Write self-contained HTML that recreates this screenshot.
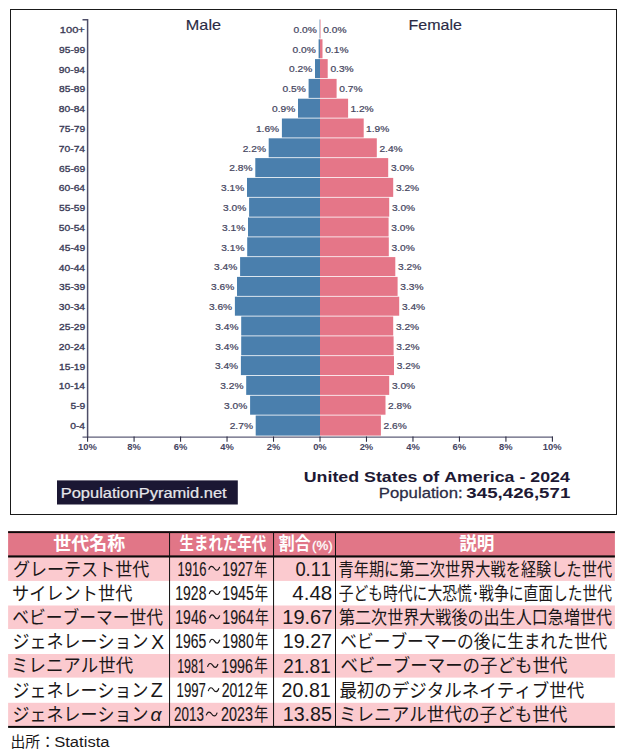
<!DOCTYPE html>
<html lang="ja">
<head>
<meta charset="utf-8">
<title>United States of America - 2024 Population Pyramid</title>
<style>
html,body{margin:0;padding:0;background:#fff;}
body{width:625px;height:753px;overflow:hidden;position:relative;font-family:"Liberation Sans",sans-serif;}
#frame{position:absolute;left:10px;top:9px;width:605px;height:504px;border:1px solid #1a1a1a;box-sizing:content-box;}
svg{position:absolute;left:0;top:0;display:block;}
svg text{font-family:"Liberation Sans","Noto Sans CJK JP",sans-serif;font-kerning:none;white-space:pre;}
</style>
</head>
<body>
<div id="frame"></div>
<svg id="page" width="625" height="753" viewBox="0 0 625 753">
<g id="chart">
<g id="bars">
<rect x="319.6" y="19.5" width="0.4" height="19" fill="#4a7fad"/>
<rect x="320" y="19.5" width="0.5" height="19" fill="#e57688"/>
<rect x="318.6" y="39.3" width="1.4" height="19" fill="#4a7fad"/>
<rect x="320" y="39.3" width="2.5" height="19" fill="#e57688"/>
<rect x="315" y="59.1" width="5" height="19" fill="#4a7fad"/>
<rect x="320" y="59.1" width="7.7" height="19" fill="#e57688"/>
<rect x="308.6" y="78.9" width="11.4" height="19" fill="#4a7fad"/>
<rect x="320" y="78.9" width="16.6" height="19" fill="#e57688"/>
<rect x="298" y="98.7" width="22" height="19" fill="#4a7fad"/>
<rect x="320" y="98.7" width="28.1" height="19" fill="#e57688"/>
<rect x="281.9" y="118.5" width="38.1" height="19" fill="#4a7fad"/>
<rect x="320" y="118.5" width="43.7" height="19" fill="#e57688"/>
<rect x="268.7" y="138.3" width="51.3" height="19" fill="#4a7fad"/>
<rect x="320" y="138.3" width="56.8" height="19" fill="#e57688"/>
<rect x="255.3" y="158.1" width="64.7" height="19" fill="#4a7fad"/>
<rect x="320" y="158.1" width="68.2" height="19" fill="#e57688"/>
<rect x="247" y="177.9" width="73" height="19" fill="#4a7fad"/>
<rect x="320" y="177.9" width="73.2" height="19" fill="#e57688"/>
<rect x="249.1" y="197.7" width="70.9" height="19" fill="#4a7fad"/>
<rect x="320" y="197.7" width="69.2" height="19" fill="#e57688"/>
<rect x="248" y="217.5" width="72" height="19" fill="#4a7fad"/>
<rect x="320" y="217.5" width="68.6" height="19" fill="#e57688"/>
<rect x="247.2" y="237.3" width="72.8" height="19" fill="#4a7fad"/>
<rect x="320" y="237.3" width="68.8" height="19" fill="#e57688"/>
<rect x="240.1" y="257.1" width="79.9" height="19" fill="#4a7fad"/>
<rect x="320" y="257.1" width="75.3" height="19" fill="#e57688"/>
<rect x="237" y="276.9" width="83" height="19" fill="#4a7fad"/>
<rect x="320" y="276.9" width="77.6" height="19" fill="#e57688"/>
<rect x="234.9" y="296.7" width="85.1" height="19" fill="#4a7fad"/>
<rect x="320" y="296.7" width="79.2" height="19" fill="#e57688"/>
<rect x="241.2" y="316.5" width="78.8" height="19" fill="#4a7fad"/>
<rect x="320" y="316.5" width="73.2" height="19" fill="#e57688"/>
<rect x="241.2" y="336.3" width="78.8" height="19" fill="#4a7fad"/>
<rect x="320" y="336.3" width="73.6" height="19" fill="#e57688"/>
<rect x="240.9" y="356.1" width="79.1" height="19" fill="#4a7fad"/>
<rect x="320" y="356.1" width="74" height="19" fill="#e57688"/>
<rect x="246.2" y="375.9" width="73.8" height="19" fill="#4a7fad"/>
<rect x="320" y="375.9" width="69.2" height="19" fill="#e57688"/>
<rect x="250.1" y="395.7" width="69.9" height="19" fill="#4a7fad"/>
<rect x="320" y="395.7" width="65.5" height="19" fill="#e57688"/>
<rect x="255.7" y="415.5" width="64.3" height="20.1" fill="#4a7fad"/>
<rect x="320" y="415.5" width="60.9" height="20.1" fill="#e57688"/>
</g>
<g fill="none">
<path d="M82.5 19.7H87.6V437.1" stroke="#4e4e68" stroke-width="1.5"/>
<path d="M82.5 437.1H552.9" stroke="#5e5e78" stroke-width="1.4"/>
<path d="M87.6 436.5V441.7M134.08 436.5V441.7M180.56 436.5V441.7M227.04 436.5V441.7M273.52 436.5V441.7M320 436.5V441.7M366.48 436.5V441.7M412.96 436.5V441.7M459.44 436.5V441.7M505.92 436.5V441.7M552.4 436.5V441.7" stroke="#2e2e44" stroke-width="1.1"/>
</g>
<g fill="#3a3a55">
<text transform="translate(59.85,33.1) scale(1.14388,1)" x="0 5.39 10.79 16.18" font-size="9.7" fill="#3a3a55" stroke="#3a3a55" stroke-width="0.34">100+</text>
<text transform="translate(58.99,53.3) scale(1.06,1)" x="0 5.39 10.79 14.02 19.41" font-size="9.7" fill="#3a3a55" stroke="#3a3a55" stroke-width="0.34">95-99</text>
<text transform="translate(58.8,73.1) scale(1.06,1)" x="0 5.39 10.79 14.02 19.41" font-size="9.7" fill="#3a3a55" stroke="#3a3a55" stroke-width="0.34">90-94</text>
<text transform="translate(58.99,92.4) scale(1.06,1)" x="0 5.39 10.79 14.02 19.41" font-size="9.7" fill="#3a3a55" stroke="#3a3a55" stroke-width="0.34">85-89</text>
<text transform="translate(58.8,112.2) scale(1.06,1)" x="0 5.39 10.79 14.02 19.41" font-size="9.7" fill="#3a3a55" stroke="#3a3a55" stroke-width="0.34">80-84</text>
<text transform="translate(58.99,132) scale(1.06,1)" x="0 5.39 10.79 14.02 19.41" font-size="9.7" fill="#3a3a55" stroke="#3a3a55" stroke-width="0.34">75-79</text>
<text transform="translate(58.8,151.8) scale(1.06,1)" x="0 5.39 10.79 14.02 19.41" font-size="9.7" fill="#3a3a55" stroke="#3a3a55" stroke-width="0.34">70-74</text>
<text transform="translate(58.99,171.6) scale(1.06,1)" x="0 5.39 10.79 14.02 19.41" font-size="9.7" fill="#3a3a55" stroke="#3a3a55" stroke-width="0.34">65-69</text>
<text transform="translate(58.8,191.4) scale(1.06,1)" x="0 5.39 10.79 14.02 19.41" font-size="9.7" fill="#3a3a55" stroke="#3a3a55" stroke-width="0.34">60-64</text>
<text transform="translate(58.99,211.2) scale(1.06,1)" x="0 5.39 10.79 14.02 19.41" font-size="9.7" fill="#3a3a55" stroke="#3a3a55" stroke-width="0.34">55-59</text>
<text transform="translate(58.8,231) scale(1.06,1)" x="0 5.39 10.79 14.02 19.41" font-size="9.7" fill="#3a3a55" stroke="#3a3a55" stroke-width="0.34">50-54</text>
<text transform="translate(58.99,250.8) scale(1.06,1)" x="0 5.39 10.79 14.02 19.41" font-size="9.7" fill="#3a3a55" stroke="#3a3a55" stroke-width="0.34">45-49</text>
<text transform="translate(58.8,270.6) scale(1.06,1)" x="0 5.39 10.79 14.02 19.41" font-size="9.7" fill="#3a3a55" stroke="#3a3a55" stroke-width="0.34">40-44</text>
<text transform="translate(58.99,290.4) scale(1.06,1)" x="0 5.39 10.79 14.02 19.41" font-size="9.7" fill="#3a3a55" stroke="#3a3a55" stroke-width="0.34">35-39</text>
<text transform="translate(58.8,310.2) scale(1.06,1)" x="0 5.39 10.79 14.02 19.41" font-size="9.7" fill="#3a3a55" stroke="#3a3a55" stroke-width="0.34">30-34</text>
<text transform="translate(58.99,330) scale(1.06,1)" x="0 5.39 10.79 14.02 19.41" font-size="9.7" fill="#3a3a55" stroke="#3a3a55" stroke-width="0.34">25-29</text>
<text transform="translate(58.8,349.8) scale(1.06,1)" x="0 5.39 10.79 14.02 19.41" font-size="9.7" fill="#3a3a55" stroke="#3a3a55" stroke-width="0.34">20-24</text>
<text transform="translate(58.99,369.6) scale(1.06,1)" x="0 5.39 10.79 14.02 19.41" font-size="9.7" fill="#3a3a55" stroke="#3a3a55" stroke-width="0.34">15-19</text>
<text transform="translate(58.8,389.4) scale(1.06,1)" x="0 5.39 10.79 14.02 19.41" font-size="9.7" fill="#3a3a55" stroke="#3a3a55" stroke-width="0.34">10-14</text>
<text transform="translate(70.43,409.2) scale(1.06,1)" x="0 5.39 8.62" font-size="9.7" fill="#3a3a55" stroke="#3a3a55" stroke-width="0.34">5-9</text>
<text transform="translate(70.24,429) scale(1.06,1)" x="0 5.39 8.62" font-size="9.7" fill="#3a3a55" stroke="#3a3a55" stroke-width="0.34">0-4</text>
</g>
<text transform="translate(293.59,32.8) scale(1.075,1)" x="0 5.28 7.92 13.21" font-size="9.5" fill="#454560" stroke="#454560" stroke-width="0.22">0.0%</text>
<text transform="translate(323.2,32.8) scale(1.075,1)" x="0 5.28 7.92 13.21" font-size="9.5" fill="#454560" stroke="#454560" stroke-width="0.22">0.0%</text>
<text transform="translate(292.59,52.6) scale(1.075,1)" x="0 5.28 7.92 13.21" font-size="9.5" fill="#454560" stroke="#454560" stroke-width="0.22">0.0%</text>
<text transform="translate(325.2,52.6) scale(1.075,1)" x="0 5.28 7.92 13.21" font-size="9.5" fill="#454560" stroke="#454560" stroke-width="0.22">0.1%</text>
<text transform="translate(288.99,72.4) scale(1.075,1)" x="0 5.28 7.92 13.21" font-size="9.5" fill="#454560" stroke="#454560" stroke-width="0.22">0.2%</text>
<text transform="translate(330.4,72.4) scale(1.075,1)" x="0 5.28 7.92 13.21" font-size="9.5" fill="#454560" stroke="#454560" stroke-width="0.22">0.3%</text>
<text transform="translate(282.59,92.2) scale(1.075,1)" x="0 5.28 7.92 13.21" font-size="9.5" fill="#454560" stroke="#454560" stroke-width="0.22">0.5%</text>
<text transform="translate(339.3,92.2) scale(1.075,1)" x="0 5.28 7.92 13.21" font-size="9.5" fill="#454560" stroke="#454560" stroke-width="0.22">0.7%</text>
<text transform="translate(271.99,112) scale(1.075,1)" x="0 5.28 7.92 13.21" font-size="9.5" fill="#454560" stroke="#454560" stroke-width="0.22">0.9%</text>
<text transform="translate(350.42,112) scale(1.075,1)" x="0 5.28 7.92 13.21" font-size="9.5" fill="#454560" stroke="#454560" stroke-width="0.22">1.2%</text>
<text transform="translate(255.89,131.8) scale(1.075,1)" x="0 5.28 7.92 13.21" font-size="9.5" fill="#454560" stroke="#454560" stroke-width="0.22">1.6%</text>
<text transform="translate(366.02,131.8) scale(1.075,1)" x="0 5.28 7.92 13.21" font-size="9.5" fill="#454560" stroke="#454560" stroke-width="0.22">1.9%</text>
<text transform="translate(242.69,151.6) scale(1.075,1)" x="0 5.28 7.92 13.21" font-size="9.5" fill="#454560" stroke="#454560" stroke-width="0.22">2.2%</text>
<text transform="translate(379.39,151.6) scale(1.075,1)" x="0 5.28 7.92 13.21" font-size="9.5" fill="#454560" stroke="#454560" stroke-width="0.22">2.4%</text>
<text transform="translate(229.29,171.4) scale(1.075,1)" x="0 5.28 7.92 13.21" font-size="9.5" fill="#454560" stroke="#454560" stroke-width="0.22">2.8%</text>
<text transform="translate(390.91,171.4) scale(1.075,1)" x="0 5.28 7.92 13.21" font-size="9.5" fill="#454560" stroke="#454560" stroke-width="0.22">3.0%</text>
<text transform="translate(220.99,191.2) scale(1.075,1)" x="0 5.28 7.92 13.21" font-size="9.5" fill="#454560" stroke="#454560" stroke-width="0.22">3.1%</text>
<text transform="translate(395.91,191.2) scale(1.075,1)" x="0 5.28 7.92 13.21" font-size="9.5" fill="#454560" stroke="#454560" stroke-width="0.22">3.2%</text>
<text transform="translate(223.09,211) scale(1.075,1)" x="0 5.28 7.92 13.21" font-size="9.5" fill="#454560" stroke="#454560" stroke-width="0.22">3.0%</text>
<text transform="translate(391.91,211) scale(1.075,1)" x="0 5.28 7.92 13.21" font-size="9.5" fill="#454560" stroke="#454560" stroke-width="0.22">3.0%</text>
<text transform="translate(221.99,230.8) scale(1.075,1)" x="0 5.28 7.92 13.21" font-size="9.5" fill="#454560" stroke="#454560" stroke-width="0.22">3.1%</text>
<text transform="translate(391.31,230.8) scale(1.075,1)" x="0 5.28 7.92 13.21" font-size="9.5" fill="#454560" stroke="#454560" stroke-width="0.22">3.0%</text>
<text transform="translate(221.19,250.6) scale(1.075,1)" x="0 5.28 7.92 13.21" font-size="9.5" fill="#454560" stroke="#454560" stroke-width="0.22">3.1%</text>
<text transform="translate(391.51,250.6) scale(1.075,1)" x="0 5.28 7.92 13.21" font-size="9.5" fill="#454560" stroke="#454560" stroke-width="0.22">3.0%</text>
<text transform="translate(214.09,270.4) scale(1.075,1)" x="0 5.28 7.92 13.21" font-size="9.5" fill="#454560" stroke="#454560" stroke-width="0.22">3.4%</text>
<text transform="translate(398.01,270.4) scale(1.075,1)" x="0 5.28 7.92 13.21" font-size="9.5" fill="#454560" stroke="#454560" stroke-width="0.22">3.2%</text>
<text transform="translate(210.99,290.2) scale(1.075,1)" x="0 5.28 7.92 13.21" font-size="9.5" fill="#454560" stroke="#454560" stroke-width="0.22">3.6%</text>
<text transform="translate(400.31,290.2) scale(1.075,1)" x="0 5.28 7.92 13.21" font-size="9.5" fill="#454560" stroke="#454560" stroke-width="0.22">3.3%</text>
<text transform="translate(208.89,310) scale(1.075,1)" x="0 5.28 7.92 13.21" font-size="9.5" fill="#454560" stroke="#454560" stroke-width="0.22">3.6%</text>
<text transform="translate(401.91,310) scale(1.075,1)" x="0 5.28 7.92 13.21" font-size="9.5" fill="#454560" stroke="#454560" stroke-width="0.22">3.4%</text>
<text transform="translate(215.19,329.8) scale(1.075,1)" x="0 5.28 7.92 13.21" font-size="9.5" fill="#454560" stroke="#454560" stroke-width="0.22">3.4%</text>
<text transform="translate(395.91,329.8) scale(1.075,1)" x="0 5.28 7.92 13.21" font-size="9.5" fill="#454560" stroke="#454560" stroke-width="0.22">3.2%</text>
<text transform="translate(215.19,349.6) scale(1.075,1)" x="0 5.28 7.92 13.21" font-size="9.5" fill="#454560" stroke="#454560" stroke-width="0.22">3.4%</text>
<text transform="translate(396.31,349.6) scale(1.075,1)" x="0 5.28 7.92 13.21" font-size="9.5" fill="#454560" stroke="#454560" stroke-width="0.22">3.2%</text>
<text transform="translate(214.89,369.4) scale(1.075,1)" x="0 5.28 7.92 13.21" font-size="9.5" fill="#454560" stroke="#454560" stroke-width="0.22">3.4%</text>
<text transform="translate(396.71,369.4) scale(1.075,1)" x="0 5.28 7.92 13.21" font-size="9.5" fill="#454560" stroke="#454560" stroke-width="0.22">3.2%</text>
<text transform="translate(220.19,389.2) scale(1.075,1)" x="0 5.28 7.92 13.21" font-size="9.5" fill="#454560" stroke="#454560" stroke-width="0.22">3.2%</text>
<text transform="translate(391.91,389.2) scale(1.075,1)" x="0 5.28 7.92 13.21" font-size="9.5" fill="#454560" stroke="#454560" stroke-width="0.22">3.0%</text>
<text transform="translate(224.09,409) scale(1.075,1)" x="0 5.28 7.92 13.21" font-size="9.5" fill="#454560" stroke="#454560" stroke-width="0.22">3.0%</text>
<text transform="translate(388.09,409) scale(1.075,1)" x="0 5.28 7.92 13.21" font-size="9.5" fill="#454560" stroke="#454560" stroke-width="0.22">2.8%</text>
<text transform="translate(229.69,428.8) scale(1.075,1)" x="0 5.28 7.92 13.21" font-size="9.5" fill="#454560" stroke="#454560" stroke-width="0.22">2.7%</text>
<text transform="translate(383.49,428.8) scale(1.075,1)" x="0 5.28 7.92 13.21" font-size="9.5" fill="#454560" stroke="#454560" stroke-width="0.22">2.6%</text>
<text transform="translate(78.02,450.3) scale(1,1)" x="0 5.23 10.46" font-size="9.4" fill="#45455f" font-weight="bold">10%</text>
<text transform="translate(127.26,450.3) scale(1,1)" x="0 5.23" font-size="9.4" fill="#45455f" font-weight="bold">8%</text>
<text transform="translate(173.72,450.3) scale(1,1)" x="0 5.23" font-size="9.4" fill="#45455f" font-weight="bold">6%</text>
<text transform="translate(220.3,450.3) scale(1,1)" x="0 5.23" font-size="9.4" fill="#45455f" font-weight="bold">4%</text>
<text transform="translate(266.69,450.3) scale(1,1)" x="0 5.23" font-size="9.4" fill="#45455f" font-weight="bold">2%</text>
<text transform="translate(313.15,450.3) scale(1,1)" x="0 5.23" font-size="9.4" fill="#45455f" font-weight="bold">0%</text>
<text transform="translate(359.65,450.3) scale(1,1)" x="0 5.23" font-size="9.4" fill="#45455f" font-weight="bold">2%</text>
<text transform="translate(406.22,450.3) scale(1,1)" x="0 5.23" font-size="9.4" fill="#45455f" font-weight="bold">4%</text>
<text transform="translate(452.6,450.3) scale(1,1)" x="0 5.23" font-size="9.4" fill="#45455f" font-weight="bold">6%</text>
<text transform="translate(499.1,450.3) scale(1,1)" x="0 5.23" font-size="9.4" fill="#45455f" font-weight="bold">8%</text>
<text transform="translate(542.82,450.3) scale(1,1)" x="0 5.23 10.46" font-size="9.4" fill="#45455f" font-weight="bold">10%</text>
<text transform="translate(185.87,30.2) scale(1.14207,1)" x="0 11.83 19.73 22.88" font-size="14.2" fill="#2b2b45" stroke="#2b2b45" stroke-width="0.15">Male</text>
<text transform="translate(408.59,30.2) scale(1.12614,1)" x="0 8.67 16.57 28.4 36.3 39.45" font-size="14.2" fill="#2b2b45" stroke="#2b2b45" stroke-width="0.15">Female</text>
<rect x="57" y="480.4" width="180.8" height="24.1" fill="#1b1733"/>
<text transform="translate(60.65,497.6) scale(1.19608,1)" x="0 9.2 16.88 24.55 32.23 35.3 42.97 46.8 49.87 57.54 65.22 74.42 81.32 85.92 93.59 105.09 108.16 115.83 119.67 127.34 135.01" font-size="13.8" fill="#e6e6ea" stroke="#e6e6ea" stroke-width="0.2">PopulationPyramid.net</text>
<text transform="translate(303.73,481.6) scale(1.2627,1)" x="0 10.18 18.8 22.71 27.41 35.25 43.86 47.78 57.18 61.88 69.72 74.42 82.26 90.1 94.02 102.63 107.33 111.24 121.43 133.96 141.81 147.29 151.21 159.05 166.89 170.81 175.51 179.42 187.27 195.11 202.95" font-size="14.1" fill="#1d1934" font-weight="bold">United States of America - 2024</text>
<text transform="translate(378.83,498.4) scale(1.19625,1)" x="0 9.34 17.12 24.91 32.7 35.81 43.59 47.48 50.59 58.38 66.17" font-size="14" fill="#2b2b45" stroke="#2b2b45" stroke-width="0.25">Population:</text>
<text transform="translate(466.37,498.4) scale(1.3257,1)" x="0 7.84 15.68 23.53 27.44 35.28 43.13 50.97 54.89 62.73 70.57" font-size="14.1" fill="#1d1934" font-weight="bold">345,426,571</text>
</g>
<g id="table">
<rect x="8.1" y="531.2" width="606.8" height="26.3" fill="#e17687"/>
<rect x="8.1" y="557.5" width="606.8" height="23.4" fill="#fbcacf"/>
<rect x="8.1" y="605.5" width="606.8" height="23.5" fill="#fbcacf"/>
<rect x="8.1" y="654.0" width="606.8" height="23.6" fill="#fbcacf"/>
<rect x="8.1" y="702.8" width="606.8" height="23.4" fill="#fbcacf"/>
<rect x="8.1" y="531.2" width="606.8" height="1.9" fill="#0a0a0a"/>
<rect x="8.1" y="555.4" width="606.8" height="2.1" fill="#0a0a0a"/>
<rect x="8.1" y="725.9" width="606.8" height="2.0" fill="#0a0a0a"/>
<rect x="169.05" y="532" width="1" height="195" fill="#111"/>
<rect x="273.05" y="532" width="1" height="195" fill="#111"/>
<rect x="335" y="532" width="1" height="195" fill="#111"/>
<text x="53.34" y="550.4" font-size="18" font-weight="bold" fill="#fff" textLength="71.8" lengthAdjust="spacingAndGlyphs">世代名称</text>
<text x="179.57" y="550.4" font-size="18" font-weight="bold" fill="#fff" textLength="86.6" lengthAdjust="spacingAndGlyphs">生まれた年代</text>
<text x="278.78" y="550.4" font-size="18" font-weight="bold" fill="#fff" textLength="31.9" lengthAdjust="spacingAndGlyphs">割合</text>
<text transform="translate(311.98,550.2) scale(1.07065,1)" x="0 4.13 15.15" font-size="12.4" fill="#fff" stroke="#fff" stroke-width="0.3">(%)</text>
<text x="459.18" y="550.4" font-size="18" font-weight="bold" fill="#fff" textLength="35.2" lengthAdjust="spacingAndGlyphs">説明</text>
<text x="12.97" y="575.8" font-size="18.5" fill="#1a1718" textLength="136.3" lengthAdjust="spacingAndGlyphs">グレーテスト世代</text>
<text x="11.95" y="599.95" font-size="18.5" fill="#1a1718" textLength="120.5" lengthAdjust="spacingAndGlyphs">サイレント世代</text>
<text x="12.26" y="624.1" font-size="18.5" fill="#1a1718" textLength="150.7" lengthAdjust="spacingAndGlyphs">ベビーブーマー世代</text>
<text x="12.59" y="648.25" font-size="18.5" fill="#1a1718" textLength="135.9" lengthAdjust="spacingAndGlyphs">ジェネレーション</text>
<text transform="translate(151.37,648.55) scale(0.98189,1)" x="0" font-size="19.6" fill="#1a1718">X</text>
<text x="10.98" y="672.4" font-size="18.5" fill="#1a1718" textLength="122.2" lengthAdjust="spacingAndGlyphs">ミレニアル世代</text>
<text x="12.59" y="696.55" font-size="18.5" fill="#1a1718" textLength="135.9" lengthAdjust="spacingAndGlyphs">ジェネレーション</text>
<text transform="translate(150.67,696.85) scale(1.00578,1)" x="0" font-size="19.6" fill="#1a1718">Z</text>
<text x="12.59" y="720.7" font-size="18.5" fill="#1a1718" textLength="135.9" lengthAdjust="spacingAndGlyphs">ジェネレーション</text>
<text transform="translate(150.59,721) scale(1.07317,1)" x="0" font-size="18" fill="#1a1718" font-style="italic">α</text>
<text transform="translate(177.41,575.5) scale(0.64454,1)" x="0 11.23 22.47 33.7" font-size="20.2" fill="#1a1718" stroke="#1a1718" stroke-width="0.12" vector-effect="non-scaling-stroke">1916</text>
<path d="M208.7 569.72C210.24 565.07 212.66 565.92 214.2 568.3S218.16 571.53 219.7 566.88" fill="none" stroke="#1a1718" stroke-width="1.15" stroke-linecap="butt"/>
<text transform="translate(222.35,575.5) scale(0.68188,1)" x="0 11.23 22.47 33.7" font-size="20.2" fill="#1a1718" stroke="#1a1718" stroke-width="0.12" vector-effect="non-scaling-stroke">1927</text>
<text x="254.17" y="575.8" font-size="18.5" fill="#1a1718" textLength="13" lengthAdjust="spacingAndGlyphs">年</text>
<text transform="translate(175.34,599.78) scale(0.69143,1)" x="0 11.23 22.47 33.7" font-size="20.2" fill="#1a1718" stroke="#1a1718" stroke-width="0.12" vector-effect="non-scaling-stroke">1928</text>
<path d="M209.2 594C210.71 589.35 213.09 590.2 214.6 592.58S218.49 595.81 220 591.15" fill="none" stroke="#1a1718" stroke-width="1.15" stroke-linecap="butt"/>
<text transform="translate(222.32,599.78) scale(0.70035,1)" x="0 11.23 22.47 33.7" font-size="20.2" fill="#1a1718" stroke="#1a1718" stroke-width="0.12" vector-effect="non-scaling-stroke">1945</text>
<text x="254.66" y="599.95" font-size="18.5" fill="#1a1718" textLength="13.4" lengthAdjust="spacingAndGlyphs">年</text>
<text transform="translate(175.34,624.06) scale(0.69159,1)" x="0 11.23 22.47 33.7" font-size="20.2" fill="#1a1718" stroke="#1a1718" stroke-width="0.12" vector-effect="non-scaling-stroke">1946</text>
<path d="M209.5 618.28C210.93 613.63 213.17 614.48 214.6 616.86S218.27 620.09 219.7 615.43" fill="none" stroke="#1a1718" stroke-width="1.15" stroke-linecap="butt"/>
<text transform="translate(222.32,624.06) scale(0.70316,1)" x="0 11.23 22.47 33.7" font-size="20.2" fill="#1a1718" stroke="#1a1718" stroke-width="0.12" vector-effect="non-scaling-stroke">1964</text>
<text x="255.03" y="624.1" font-size="18.5" fill="#1a1718" textLength="13.9" lengthAdjust="spacingAndGlyphs">年</text>
<text transform="translate(175.34,648.34) scale(0.69095,1)" x="0 11.23 22.47 33.7" font-size="20.2" fill="#1a1718" stroke="#1a1718" stroke-width="0.12" vector-effect="non-scaling-stroke">1965</text>
<path d="M209.5 642.56C210.93 637.91 213.17 638.76 214.6 641.14S218.27 644.37 219.7 639.72" fill="none" stroke="#1a1718" stroke-width="1.15" stroke-linecap="butt"/>
<text transform="translate(222.32,648.34) scale(0.69938,1)" x="0 11.23 22.47 33.7" font-size="20.2" fill="#1a1718" stroke="#1a1718" stroke-width="0.12" vector-effect="non-scaling-stroke">1980</text>
<text x="255.06" y="648.25" font-size="18.5" fill="#1a1718" textLength="13.4" lengthAdjust="spacingAndGlyphs">年</text>
<text transform="translate(177.15,672.62) scale(0.62011,1)" x="0 11.23 22.47 33.7" font-size="20.2" fill="#1a1718" stroke="#1a1718" stroke-width="0.12" vector-effect="non-scaling-stroke">1981</text>
<path d="M207.5 666.84C208.97 662.19 211.28 663.04 212.75 665.42S216.53 668.65 218 664" fill="none" stroke="#1a1718" stroke-width="1.15" stroke-linecap="butt"/>
<text transform="translate(221.32,672.62) scale(0.70335,1)" x="0 11.23 22.47 33.7" font-size="20.2" fill="#1a1718" stroke="#1a1718" stroke-width="0.12" vector-effect="non-scaling-stroke">1996</text>
<text x="254.15" y="672.4" font-size="18.5" fill="#1a1718" textLength="13.6" lengthAdjust="spacingAndGlyphs">年</text>
<text transform="translate(176.59,696.9) scale(0.65357,1)" x="0 11.23 22.47 33.7" font-size="20.2" fill="#1a1718" stroke="#1a1718" stroke-width="0.12" vector-effect="non-scaling-stroke">1997</text>
<path d="M208.2 691.12C209.7 686.47 212.05 687.32 213.55 689.7S217.4 692.93 218.9 688.27" fill="none" stroke="#1a1718" stroke-width="1.15" stroke-linecap="butt"/>
<text transform="translate(221.69,696.9) scale(0.69688,1)" x="0 11.23 22.47 33.7" font-size="20.2" fill="#1a1718" stroke="#1a1718" stroke-width="0.12" vector-effect="non-scaling-stroke">2012</text>
<text x="254.13" y="696.55" font-size="18.5" fill="#1a1718" textLength="13.9" lengthAdjust="spacingAndGlyphs">年</text>
<text transform="translate(174.02,721.18) scale(0.6646,1)" x="0 11.23 22.47 33.7" font-size="20.2" fill="#1a1718" stroke="#1a1718" stroke-width="0.12" vector-effect="non-scaling-stroke">2013</text>
<path d="M206.2 715.4C207.74 710.75 210.16 711.61 211.7 713.98S215.66 717.21 217.2 712.56" fill="none" stroke="#1a1718" stroke-width="1.15" stroke-linecap="butt"/>
<text transform="translate(220.98,721.18) scale(0.71107,1)" x="0 11.23 22.47 33.7" font-size="20.2" fill="#1a1718" stroke="#1a1718" stroke-width="0.12" vector-effect="non-scaling-stroke">2023</text>
<text x="254.11" y="720.7" font-size="18.5" fill="#1a1718" textLength="14.3" lengthAdjust="spacingAndGlyphs">年</text>
<text transform="translate(295.38,575.5) scale(0.92207,1)" x="0 11.07 16.6 27.66" font-size="19.9" fill="#1a1718">0.11</text>
<text transform="translate(292.23,599.78) scale(1.03449,1)" x="0 11.07 16.6 27.66" font-size="19.9" fill="#1a1718">4.48</text>
<text transform="translate(282.27,624.06) scale(1.00673,1)" x="0 11.07 22.13 27.66 38.73" font-size="19.9" fill="#1a1718">19.67</text>
<text transform="translate(282.7,648.34) scale(0.99192,1)" x="0 11.07 22.13 27.66 38.73" font-size="19.9" fill="#1a1718">19.27</text>
<text transform="translate(283.25,672.62) scale(0.95345,1)" x="0 11.07 22.13 27.66 38.73" font-size="19.9" fill="#1a1718">21.81</text>
<text transform="translate(281.61,696.9) scale(0.98691,1)" x="0 11.07 22.13 27.66 38.73" font-size="19.9" fill="#1a1718">20.81</text>
<text transform="translate(282.7,721.18) scale(0.98847,1)" x="0 11.07 22.13 27.66 38.73" font-size="19.9" fill="#1a1718">13.85</text>
<text x="338.5" y="575.8" font-size="18.5" fill="#1a1718" textLength="273.6" lengthAdjust="spacingAndGlyphs">青年期に第二次世界大戦を経験した世代</text>
<text x="338.72" y="599.95" font-size="18.5" fill="#1a1718" textLength="273.4" lengthAdjust="spacingAndGlyphs">子ども時代に大恐慌･戦争に直面した世代</text>
<text x="338.93" y="624.1" font-size="18.5" fill="#1a1718" textLength="273.2" lengthAdjust="spacingAndGlyphs">第二次世界大戦後の出生人口急増世代</text>
<text x="340.36" y="648.25" font-size="18.5" fill="#1a1718" textLength="266.9" lengthAdjust="spacingAndGlyphs">ベビーブーマーの後に生まれた世代</text>
<text x="340.38" y="672.4" font-size="18.5" fill="#1a1718" textLength="227" lengthAdjust="spacingAndGlyphs">ベビーブーマーの子ども世代</text>
<text x="339.38" y="696.55" font-size="18.5" fill="#1a1718" textLength="245" lengthAdjust="spacingAndGlyphs">最初のデジタルネイティブ世代</text>
<text x="338.97" y="720.7" font-size="18.5" fill="#1a1718" textLength="228.4" lengthAdjust="spacingAndGlyphs">ミレニアル世代の子ども世代</text>
<text x="10.53" y="746.9" font-size="15" fill="#1a1718" textLength="44.5" lengthAdjust="spacingAndGlyphs">出所：</text>
<text transform="translate(54.14,747.4) scale(1.10856,1)" x="0 10 14.17 22.51 26.68 30.01 37.51 41.68" font-size="15" fill="#1a1718">Statista</text>
</g>
</svg>
</body>
</html>
